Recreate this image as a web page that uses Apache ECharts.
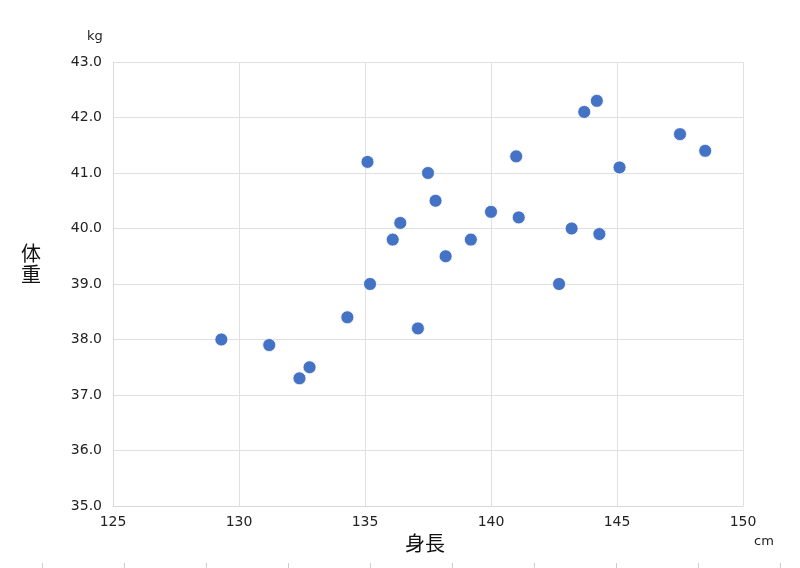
<!DOCTYPE html>
<html>
<head>
<meta charset="utf-8">
<script src="https://cdn.jsdelivr.net/npm/echarts@6/dist/echarts.min.js"></script>
<style>html,body{margin:0;padding:0;background:#fff;}#c{width:800px;height:568px;}</style>
</head>
<body>
<div id="c"></div>
<script>
const heights = [129.3,131.2,132.4,132.8,134.3,135.1,135.2,136.1,136.4,137.1,137.5,137.8,138.2,139.2,140.0,141.0,141.1,142.7,143.2,143.7,144.2,144.3,145.1,147.5,148.5];
const weights = [38.0,37.9,37.3,37.5,38.4,41.2,39.0,39.8,40.1,38.2,41.0,40.5,39.5,39.8,40.3,41.3,40.2,39.0,40.0,42.1,42.3,39.9,41.1,41.7,41.4];
const xTitle = '身長';
const yTitle = '体重';
const xUnit = 'cm';
const yUnit = 'kg';

const NUMFONT = '"DejaVu Sans", Verdana, sans-serif';
const FONT = '"Noto Sans CJK JP", "Noto Sans", sans-serif';
const points = heights.map((h, i) => [h, weights[i]]);
const chart = echarts.init(document.getElementById('c'), null, {renderer: 'canvas'});
chart.setOption({
  animation: false,
  backgroundColor: '#ffffff',
  textStyle: {fontFamily: FONT},
  grid: [
    {left: 113, right: 57, top: 62, bottom: 62},
    {left: 42, right: 20, top: 563, bottom: 0}
  ],
  xAxis: [{
    type: 'value', min: 125, max: 150, interval: 5, gridIndex: 0,
    axisLine: {show: true, lineStyle: {color: '#d9d9d9'}},
    axisTick: {show: false},
    splitLine: {show: true, lineStyle: {color: '#e0e0e0'}},
    axisLabel: {color: '#222', fontSize: 14, margin: 9, fontFamily: NUMFONT}
  }, {
    type: 'value', min: 0, max: 9, interval: 1, gridIndex: 1, position: 'bottom',
    axisLine: {show: false},
    axisTick: {show: true, inside: true, length: 5, lineStyle: {color: '#cccccc'}},
    axisLabel: {show: false},
    splitLine: {show: false}
  }],
  yAxis: [{
    type: 'value', min: 35, max: 43, interval: 1, gridIndex: 0,
    axisLine: {show: true, lineStyle: {color: '#d9d9d9'}},
    axisTick: {show: false},
    splitLine: {show: true, lineStyle: {color: '#e0e0e0'}},
    axisLabel: {color: '#222', fontSize: 14, margin: 11, fontFamily: NUMFONT,
      formatter: v => v.toFixed(1)}
  }, {
    type: 'value', gridIndex: 1, show: false
  }],
  graphic: [
    {type: 'text', left: 87, top: 30, style: {text: yUnit, font: '13px ' + NUMFONT, fill: '#222'}},
    {type: 'text', left: 754, top: 535, style: {text: xUnit, font: '13px ' + NUMFONT, fill: '#222'}},
    {type: 'text', left: 405, top: 533, style: {text: xTitle, font: '20px ' + FONT, fill: '#111'}},
    {type: 'text', left: 21, top: 243, style: {text: yTitle.split('').join('\n'), font: '20px ' + FONT, fill: '#111', lineHeight: 21}}
  ],
  series: [{
    type: 'scatter', xAxisIndex: 0, yAxisIndex: 0,
    data: points,
    symbolSize: 13,
    itemStyle: {color: '#4472C4', borderColor: '#ffffff', borderWidth: 0.8, opacity: 1}
  }]
});
</script>
</body>
</html>
